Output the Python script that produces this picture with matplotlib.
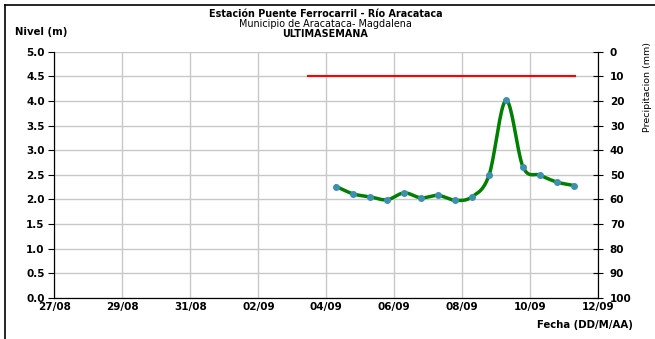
import numpy as np
import pandas as pd
import matplotlib.pyplot as plt
import matplotlib.dates as mdates
from matplotlib.lines import Line2D

plt.rcParams['font.family'] = ['DejaVu Sans']

# Nivel del rio cada 12 horas
fechas = pd.date_range('2024-09-04 07:00', periods=15, freq='12h')
nivel = [2.26, 2.11, 2.05, 1.99, 2.13, 2.03, 2.08, 1.98, 2.05, 2.49,
         4.01, 2.66, 2.49, 2.35, 2.28]

# Nivel de alerta
alerta_fechas = pd.to_datetime(['2024-09-03 11:00', '2024-09-11 08:00'])
alerta_nivel = [4.5, 4.5]

x_ini = pd.Timestamp('2024-08-27')
x_fin = pd.Timestamp('2024-09-12')


def catmull_rom(x, y, n=20):
    # suavizado tipo Excel
    x = np.asarray(x, float)
    y = np.asarray(y, float)
    px = np.concatenate([[2 * x[0] - x[1]], x, [2 * x[-1] - x[-2]]])
    py = np.concatenate([[2 * y[0] - y[1]], y, [2 * y[-1] - y[-2]]])
    xs, ys = [], []
    t = np.linspace(0, 1, n)
    for i in range(1, len(px) - 2):
        p0, p1, p2, p3 = px[i - 1], px[i], px[i + 1], px[i + 2]
        q0, q1, q2, q3 = py[i - 1], py[i], py[i + 1], py[i + 2]
        c1x, c1y = p1 + (p2 - p0) / 6, q1 + (q2 - q0) / 6
        c2x, c2y = p2 - (p3 - p1) / 6, q2 - (q3 - q1) / 6
        bx = (1 - t) ** 3 * p1 + 3 * (1 - t) ** 2 * t * c1x + 3 * (1 - t) * t ** 2 * c2x + t ** 3 * p2
        by = (1 - t) ** 3 * q1 + 3 * (1 - t) ** 2 * t * c1y + 3 * (1 - t) * t ** 2 * c2y + t ** 3 * q2
        xs.append(bx)
        ys.append(by)
    return np.concatenate(xs), np.concatenate(ys)


fig = plt.figure(figsize=(6.55, 3.39), dpi=100)
ax = fig.add_axes([0.0832, 0.1218, 0.8298, 0.7257])

xnum = mdates.date2num(fechas)
sx, sy = catmull_rom(xnum, nivel)
ax.plot(sx, sy, color='#008000', lw=2.5, zorder=3)
ax.plot(xnum, nivel, 'o', color='#3f8fb0', ms=4, mec='#3f8fb0', zorder=4)
ax.plot(alerta_fechas, alerta_nivel, color='#ff0000', lw=1.5, zorder=3)

ax.set_xlim(x_ini, x_fin)
ax.set_ylim(0, 5)
ax.set_yticks(np.arange(0, 5.01, 0.5))
ax.set_yticklabels([f'{v:.1f}' for v in np.arange(0, 5.01, 0.5)])
ax.set_xticks(pd.date_range(x_ini, x_fin, freq='2D'))
ax.xaxis.set_major_formatter(mdates.DateFormatter('%d/%m'))
ax.grid(True, color='#c8c8c8', lw=1)
ax.set_axisbelow(True)
ax.spines['top'].set_visible(False)
ax.spines['left'].set_color('black')
ax.spines['bottom'].set_color('black')
ax.tick_params(axis='y', direction='out', length=4, width=0.8, pad=3, labelsize=7.5)
ax.tick_params(axis='x', length=0, pad=3, labelsize=7.5)
for lb in ax.get_xticklabels() + ax.get_yticklabels():
    lb.set_fontweight('bold')

ax2 = ax.twinx()
ax2.set_ylim(100, 0)
ax2.set_yticks(np.arange(0, 101, 10))
ax2.tick_params(axis='y', direction='inout', length=7, width=0.8, pad=5, labelsize=7.5)
for lb in ax2.get_yticklabels():
    lb.set_fontweight('bold')
ax2.spines['top'].set_visible(False)
ax2.spines['right'].set_color('black')

fig.text(0.497, 0.958, 'Estación Puente Ferrocarril - Río Aracataca', ha='center', va='center',
         fontsize=6.9, fontweight='bold')
fig.text(0.497, 0.930, 'Municipio de Aracataca- Magdalena', ha='center', va='center', fontsize=6.9)
fig.text(0.497, 0.901, 'ULTIMASEMANA', ha='center', va='center', fontsize=6.9, fontweight='bold')
fig.text(0.023, 0.906, 'Nivel (m)', ha='left', va='center', fontsize=7.3, fontweight='bold')
fig.text(0.966, 0.041, 'Fecha (DD/M/AA)', ha='right', va='center', fontsize=7.3, fontweight='bold')
fig.text(0.988, 0.875, 'Precipitacion (mm)', ha='center', va='top', rotation=90, fontsize=6.8)

# marco del grafico
fig.add_artist(Line2D([0.008, 0.008], [0, 0.986], color='black', lw=1.2, transform=fig.transFigure))
fig.add_artist(Line2D([0.008, 1], [0.986, 0.986], color='black', lw=1.2, transform=fig.transFigure))

fig.savefig('out.png', dpi=100)
